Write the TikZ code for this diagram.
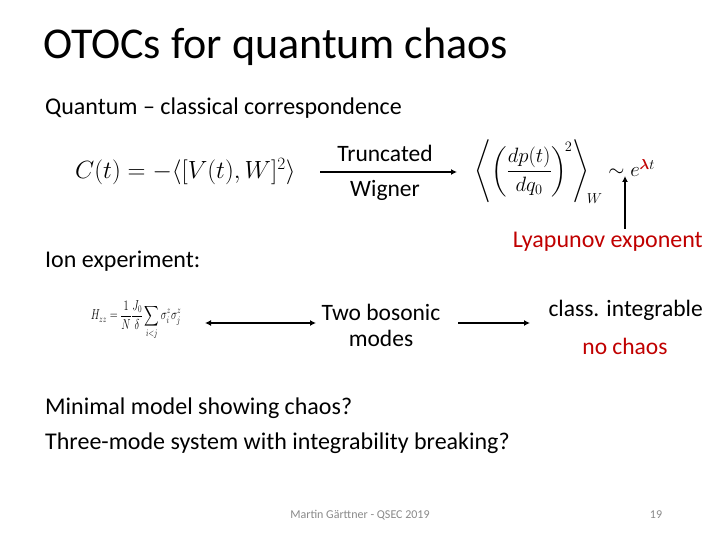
\documentclass[tikz,border=0pt]{standalone}
\usepackage{amsmath,amssymb}
\usepackage{fontspec}
\setmainfont{Carlito}
\usetikzlibrary{positioning,arrows.meta}
\definecolor{lyared}{RGB}{192,0,0}
\definecolor{footgray}{RGB}{137,137,137}
\tikzset{
  >={Latex[length=6pt,width=6pt]},
  body/.style={font=\fontsize{24}{28}\selectfont, inner sep=0pt},
  lbl/.style={font=\fontsize{23.5}{26}\selectfont, inner sep=0pt, align=center},
  eqn/.style={font=\fontsize{24}{28}\selectfont, inner sep=0pt},
  foot/.style={inner sep=0pt, text=footgray, font=\fontsize{12}{14}\selectfont},
  conn/.style={->, line width=1.8pt},
}

\begin{document}
\begin{tikzpicture}[x=1pt, y=-1pt]
  \useasboundingbox (0,0) rectangle (720,540);
  % title and intro
  \node[anchor=west, inner sep=0pt, font=\fontsize{44}{50}\selectfont] (title) at (43,47) {OTOCs for quantum chaos};
  \node[body, anchor=west] (qcc) at (45,108) {Quantum -- classical correspondence};
  % first row: OTOC -> classical limit
  \node[eqn, anchor=west] (otoc) at (75,172) {$C(t) = -\langle [V(t),W]^2\rangle$};
  \coordinate (twl) at (320,172);
  \coordinate (twr) at (457,172);
  \draw[conn] (twl) -- (twr);
  \node[lbl] (trunc) at (385,153) {Truncated};
  \node[lbl] (wigner) at (385,190) {Wigner};
  \node[eqn, font=\fontsize{21}{24}\selectfont, anchor=west] (clas) at (474,172) {$\left\langle\left(\dfrac{dp(t)}{dq_0}\right)^{\!2}\right\rangle_{\!W}\sim e^{\textcolor{lyared}{\boldsymbol{\lambda}}t}$};
  \node[body, text=lyared, anchor=east] (lyap) at (703,242) {Lyapunov exponent};
  \coordinate (lamfoot) at (625,229);
  \coordinate (lam) at (625,176);
  \draw[conn] (lamfoot) -- (lam);
  % second row: ion experiment
  \node[body, anchor=west] (ion) at (45,261) {Ion experiment:};
  \node[inner sep=0pt, font=\fontsize{14}{16}\selectfont] (hzz) at (136,320) {\scalebox{0.72}[1]{$\displaystyle H_{zz}=\frac{1}{N}\frac{J_0}{\delta}\sum_{i<j}\sigma_i^z\sigma_j^z$}};
  \node[lbl] (bos) at (381,325) {Two bosonic\\modes};
  \coordinate (hzzr) at (205,323);
  \coordinate (bosl) at (316,323);
  \draw[<->, line width=1.8pt] (hzzr) -- (bosl);
  \node[lbl, anchor=east] (integ) at (703,310) {class. integrable};
  \node[lbl, text=lyared] (nochaos) at (625,346) {no chaos};
  \coordinate (bosr) at (458,323);
  \coordinate (integl) at (530,323);
  \draw[conn] (bosr) -- (integl);
  % questions
  \node[body, anchor=west] (q1) at (45,408) {Minimal model showing chaos?};
  \node[body, anchor=west] (q2) at (45,443) {Three-mode system with integrability breaking?};
  % footer
  \node[foot] (footer) at (360,515) {Martin Gärttner - QSEC 2019};
  \node[foot] (page) at (656,515) {19};
\end{tikzpicture}
\end{document}
